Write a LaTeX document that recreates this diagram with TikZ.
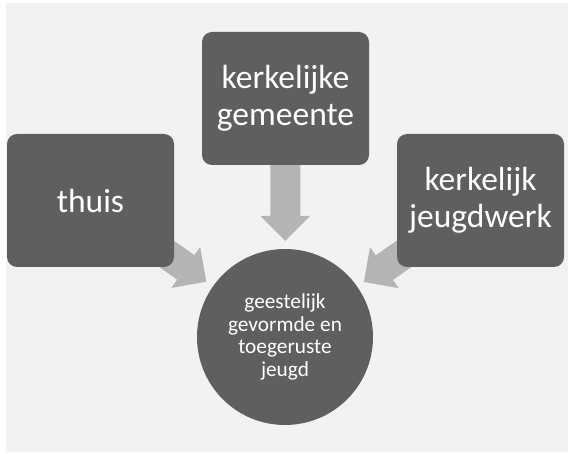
\documentclass[tikz,border=0pt]{standalone}
\usepackage{fontspec}
\setmainfont{Carlito}
\usepackage{xcolor}
\usetikzlibrary{arrows.meta}

\definecolor{paper}{HTML}{F2F2F2}
\definecolor{boxgray}{HTML}{5F5F5F}
\definecolor{arrowgray}{HTML}{B4B4B4}

\pgfdeclarelayer{under}
\pgfsetlayers{under,main}

\tikzset{
  box/.style={fill=boxgray, rounded corners=10pt, minimum width=167pt,
    minimum height=133pt, inner sep=0pt, text=white, align=center,
    font=\fontsize{33.5}{36.7}\selectfont},
  hub/.style={circle, fill=boxgray, minimum size=176pt, inner sep=0pt,
    text=white, align=center, font=\fontsize{21.3}{22.6}\selectfont},
  feed/.style={arrowgray, line width=30pt, shorten >=8pt,
    -{Triangle[length=25pt, width=50pt, line width=0pt]}}
}

\begin{document}
\begin{tikzpicture}[x=1pt, y=-1pt]
    \useasboundingbox (0,0) rectangle (573,454);

    \node[box] (thuis) at (90.5,200.5) {thuis};
    \node[box] (gemeente) at (285.5,98.5) {kerkelijke\\gemeente};
    \node[box] (jeugdwerk) at (480.5,200.5) {kerkelijk\\jeugdwerk};
    \node[hub] (jeugd) at (285,337) {geestelijk\\gevormde en\\toegeruste\\jeugd};

    % arrows go under the boxes
    \begin{pgfonlayer}{under}
      \fill[paper] (6,3) rectangle (568,452);
      \draw[feed] (thuis.center) -- (jeugd);
      \draw[feed] (gemeente.center) -- (jeugd);
      \draw[feed] (jeugdwerk.center) -- (jeugd);
    \end{pgfonlayer}
\end{tikzpicture}
\end{document}
